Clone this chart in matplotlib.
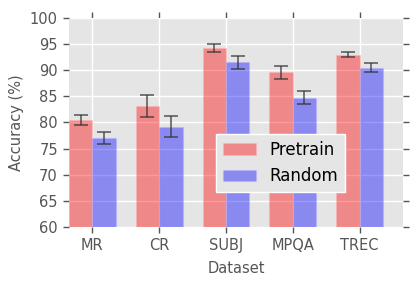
import matplotlib
matplotlib.use("Agg")
import matplotlib.pyplot as plt
import numpy as np

datasets = ["MR", "CR", "SUBJ", "MPQA", "TREC"]
pretrain = [80.5, 83.1, 94.2, 89.6, 93.0]
pretrain_err = [1.0, 2.1, 0.75, 1.2, 0.5]
random_init = [77.0, 79.2, 91.5, 84.7, 90.5]
random_err = [1.2, 1.95, 1.2, 1.25, 0.85]

plt.style.use("ggplot")
plt.rcParams["font.family"] = "DejaVu Sans"

fig = plt.figure(figsize=(4.15, 2.85), dpi=100)
ax = fig.add_axes([69 / 415, 58 / 285, 334 / 415, 209 / 285])

ind = np.arange(len(datasets))
width = 0.35
err_kw = dict(ecolor="#333333", alpha=0.75, elinewidth=1.2, capsize=5, capthick=1.2)

ax.bar(ind, pretrain, width, yerr=pretrain_err, color="r", alpha=0.4,
       edgecolor="#ffb0b0", linewidth=0.8, error_kw=err_kw, label="Pretrain", align="edge")
ax.bar(ind + width, random_init, width, yerr=random_err, color="b", alpha=0.4,
       edgecolor="#b0b0ff", linewidth=0.8, error_kw=err_kw, label="Random", align="edge")

ax.set_xlim(0, 5)
ax.set_ylim(60, 100)
ax.set_xticks(ind + width)
ax.set_xticklabels(datasets)
ax.set_yticks(np.arange(60, 101, 5))
ax.set_facecolor("#E5E5E5")
ax.grid(True, color="white", linewidth=1)
ax.set_axisbelow(True)
for s in ax.spines.values():
    s.set_visible(False)
ax.tick_params(axis="both", direction="out", length=4, width=1, color="#555555",
               labelcolor="#555555", labelsize=10.5, top=True, right=True, pad=4)

ax.set_xlabel("Dataset", fontsize=10.5, color="#555555", labelpad=6)
ax.set_ylabel("Accuracy (%)", fontsize=10.5, color="#555555", labelpad=4)

leg = ax.legend(loc="lower left", bbox_to_anchor=(0.44, 0.167), borderaxespad=0,
                fontsize=12, facecolor="#E5E5E5", edgecolor="white", framealpha=1,
                fancybox=False, handlelength=2.0, handleheight=0.7)
leg.get_frame().set_linewidth(1)

fig.savefig("out.png", dpi=100)
